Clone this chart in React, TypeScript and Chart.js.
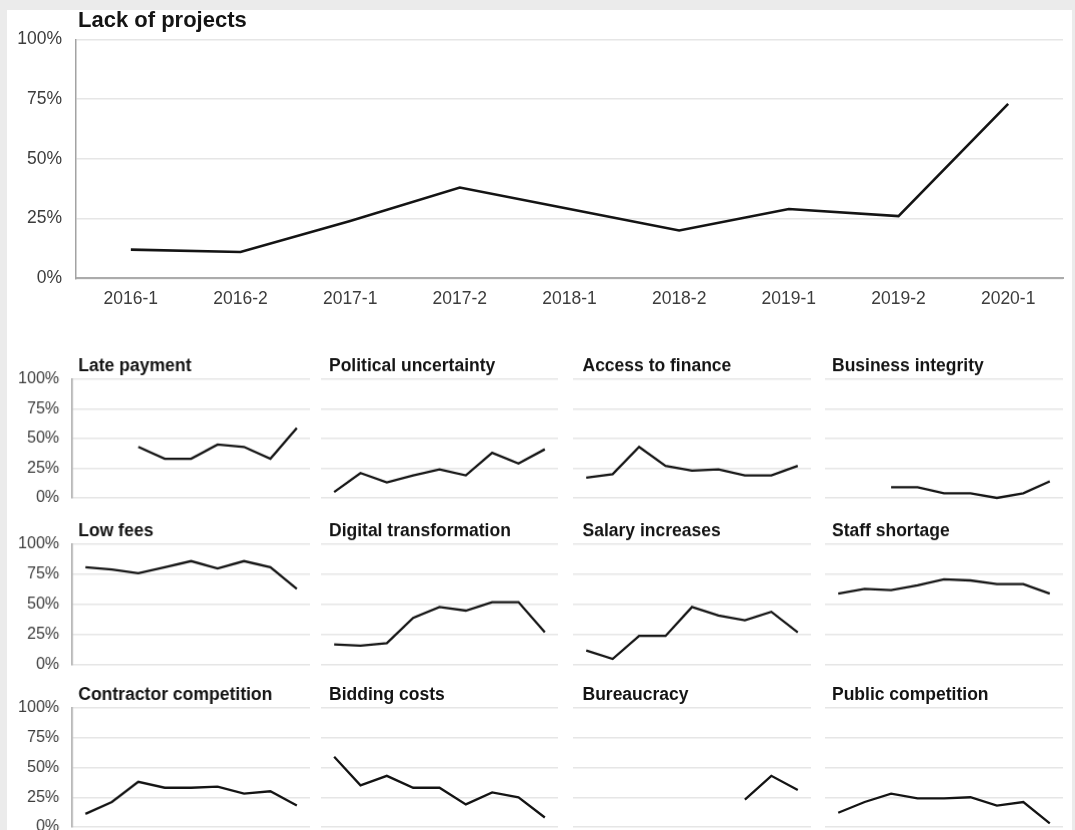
import React, { useEffect, useRef } from "react";
import { Chart, registerables } from "chart.js";

Chart.register(...registerables);

// ---------- data ----------
const periods = ["2016-1", "2016-2", "2017-1", "2017-2", "2018-1", "2018-2", "2019-1", "2019-2", "2020-1"];
const yTickValues = [0, 25, 50, 75, 100];

const lackOfProjects = [12, 11, 24, 38, 29, 20, 29, 26, 73];

const latePayment = [null, null, 43, 33, 33, 45, 43, 33, 59];
const politicalUncertainty = [5, 21, 13, 19, 24, 19, 38, 29, 41];
const accessToFinance = [17, 20, 43, 27, 23, 24, 19, 19, 27];
const businessIntegrity = [null, null, 9, 9, 4, 4, 0, 4, 14];
const lowFees = [81, 79, 76, 81, 86, 80, 86, 81, 63];
const digitalTransformation = [17, 16, 18, 39, 48, 45, 52, 52, 27];
const salaryIncreases = [12, 5, 24, 24, 48, 41, 37, 44, 27];
const staffShortage = [59, 63, 62, 66, 71, 70, 67, 67, 59];
const contractorCompetition = [11, 21, 38, 33, 33, 34, 28, 30, 18];
const biddingCosts = [59, 35, 43, 33, 33, 19, 29, 25, 8];
const bureaucracy = [null, null, null, null, null, null, 23, 43, 31];
const publicCompetition = [12, 21, 28, 24, 24, 25, 18, 21, 3];

const mainTitle = "Lack of projects";
const smallTitles = [
  "Late payment", "Political uncertainty", "Access to finance", "Business integrity",
  "Low fees", "Digital transformation", "Salary increases", "Staff shortage",
  "Contractor competition", "Bidding costs", "Bureaucracy", "Public competition",
];
const smallSeries = [
  latePayment, politicalUncertainty, accessToFinance, businessIntegrity,
  lowFees, digitalTransformation, salaryIncreases, staffShortage,
  contractorCompetition, biddingCosts, bureaucracy, publicCompetition,
];

// ---------- style ----------
const FONT = "'Liberation Sans', Arial, Helvetica, sans-serif";
const LINE_COLOR = "#141414";
const GRID_COLOR = "#e6e6e6";
const TICK_COLOR = "#3c3c3c";
const TITLE_COLOR = "#141414";

Chart.defaults.font.family = FONT;

const panelTitlePlugin = {
  id: "panelTitle",
  afterDraw(chart: any, _args: any, opts: any) {
    if (!opts || !opts.text) return;
    const { ctx, chartArea } = chart;
    ctx.save();
    ctx.font = `bold ${opts.size}px ${FONT}`;
    ctx.fillStyle = TITLE_COLOR;
    ctx.textAlign = "left";
    ctx.textBaseline = "alphabetic";
    ctx.fillText(opts.text, chartArea.left + opts.dx, chartArea.top - opts.dy);
    ctx.restore();
  },
};
Chart.register(panelTitlePlugin);

type Box = { x: number; y: number; w: number; h: number };
type Area = { l: number; t: number; r: number; b: number };

type PanelProps = {
  box: Box;
  area: Area;
  values: (number | null)[];
  title: string;
  titleSize: number;
  titleDx: number;
  titleDy: number;
  showY: boolean;
  yFontSize: number;
  yPad: number;
  showX: boolean;
  xFontSize: number;
  xAxisH: number;
  lineWidth: number;
};

function Panel(p: PanelProps) {
  const ref = useRef<HTMLCanvasElement | null>(null);
  useEffect(() => {
    if (!ref.current) return;
    const yAxisW = p.area.l - p.box.x;
    const padRight = p.box.x + p.box.w - p.area.r;
    const padTop = p.area.t - p.box.y;
    const padBottom = Math.max(0, p.box.y + p.box.h - p.area.b - p.xAxisH);
    const chart = new Chart(ref.current, {
      type: "line",
      data: {
        labels: periods,
        datasets: [
          {
            data: p.values,
            borderColor: LINE_COLOR,
            borderWidth: p.lineWidth,
            pointRadius: 0,
            tension: 0,
            fill: false,
            spanGaps: false,
            clip: false as any,
            borderJoinStyle: "miter",
          },
        ],
      },
      options: {
        animation: false,
        responsive: false,
        devicePixelRatio: 1,
        events: [],
        layout: { padding: { left: 0, right: padRight, top: padTop, bottom: padBottom } },
        plugins: {
          legend: { display: false },
          tooltip: { enabled: false },
          title: { display: false },
          panelTitle: { text: p.title, size: p.titleSize, dx: p.titleDx, dy: p.titleDy },
        } as any,
        scales: {
          x: {
            type: "category",
            offset: true,
            display: true,
            grid: { display: false, drawTicks: false },
            border: { display: p.showX, color: "#ababab", width: 2 },
            ticks: {
              display: p.showX,
              color: TICK_COLOR,
              font: { size: p.xFontSize },
              padding: 10,
              maxRotation: 0,
              autoSkip: false,
            },
            afterFit: (s: any) => {
              s.height = p.xAxisH;
            },
          },
          y: {
            type: "linear",
            min: 0,
            max: 100,
            grid: { color: GRID_COLOR, lineWidth: 1.5, drawTicks: false },
            border: { display: p.showY, color: "#a3a3a3", width: 1.5 },
            ticks: {
              display: p.showY,
              color: TICK_COLOR,
              font: { size: p.yFontSize },
              padding: p.yPad,
              callback: (v: any) => `${v}%`,
            },
            afterBuildTicks: (s: any) => {
              s.ticks = yTickValues.map((v) => ({ value: v }));
            },
            afterFit: (s: any) => {
              s.width = yAxisW;
              s.paddingTop = 0;
              s.paddingBottom = 0;
            },
          },
        },
      },
    });
    return () => chart.destroy();
  }, []);
  return (
    <canvas
      ref={ref}
      width={p.box.w}
      height={p.box.h}
      style={{ position: "absolute", left: p.box.x, top: p.box.y, width: p.box.w, height: p.box.h }}
    />
  );
}

const cols = [
  { l: 72, r: 309.5, dx: 6 },
  { l: 320.5, r: 558, dx: 8 },
  { l: 573, r: 811, dx: 9.5 },
  { l: 824.5, r: 1062.5, dx: 7 },
];
const rows = [
  { t: 379.3, b: 498.3 },
  { t: 544.3, b: 665 },
  { t: 707.7, b: 827.3 },
];

export default function App() {
  const panels: PanelProps[] = [];
  smallSeries.forEach((vals, i) => {
    const c = cols[i % 4];
    const r = rows[Math.floor(i / 4)];
    const x = i % 4 === 0 ? 0 : c.l - 2;
    const y = r.t - 32;
    panels.push({
      box: { x, y, w: c.r + 3 - x, h: r.b + 14 - y },
      area: { l: c.l, t: r.t, r: c.r, b: r.b },
      values: vals,
      title: smallTitles[i],
      titleSize: 17.5,
      titleDx: c.dx,
      titleDy: 8.5,
      showY: i % 4 === 0,
      yFontSize: 16,
      yPad: 13,
      showX: false,
      xFontSize: 15,
      xAxisH: 14,
      lineWidth: 2.3,
    });
  });

  return (
    <div
      style={{
        position: "fixed",
        left: 0,
        top: 0,
        width: 1075,
        height: 830,
        overflow: "hidden",
        background: "#ebebeb",
      }}
    >
      <div
        style={{ position: "absolute", left: 7, top: 10, width: 1065, height: 830, background: "#ffffff" }}
      />
      <Panel
        box={{ x: 0, y: 0, w: 1075, h: 320 }}
        area={{ l: 76, t: 39.3, r: 1063, b: 278.3 }}
        values={lackOfProjects}
        title={mainTitle}
        titleSize={22}
        titleDx={2}
        titleDy={12.6}
        showY={true}
        yFontSize={17.5}
        yPad={14}
        showX={true}
        xFontSize={17.5}
        xAxisH={30}
        lineWidth={2.6}
      />
      {panels.map((p, i) => (
        <Panel key={i} {...p} />
      ))}
    </div>
  );
}
